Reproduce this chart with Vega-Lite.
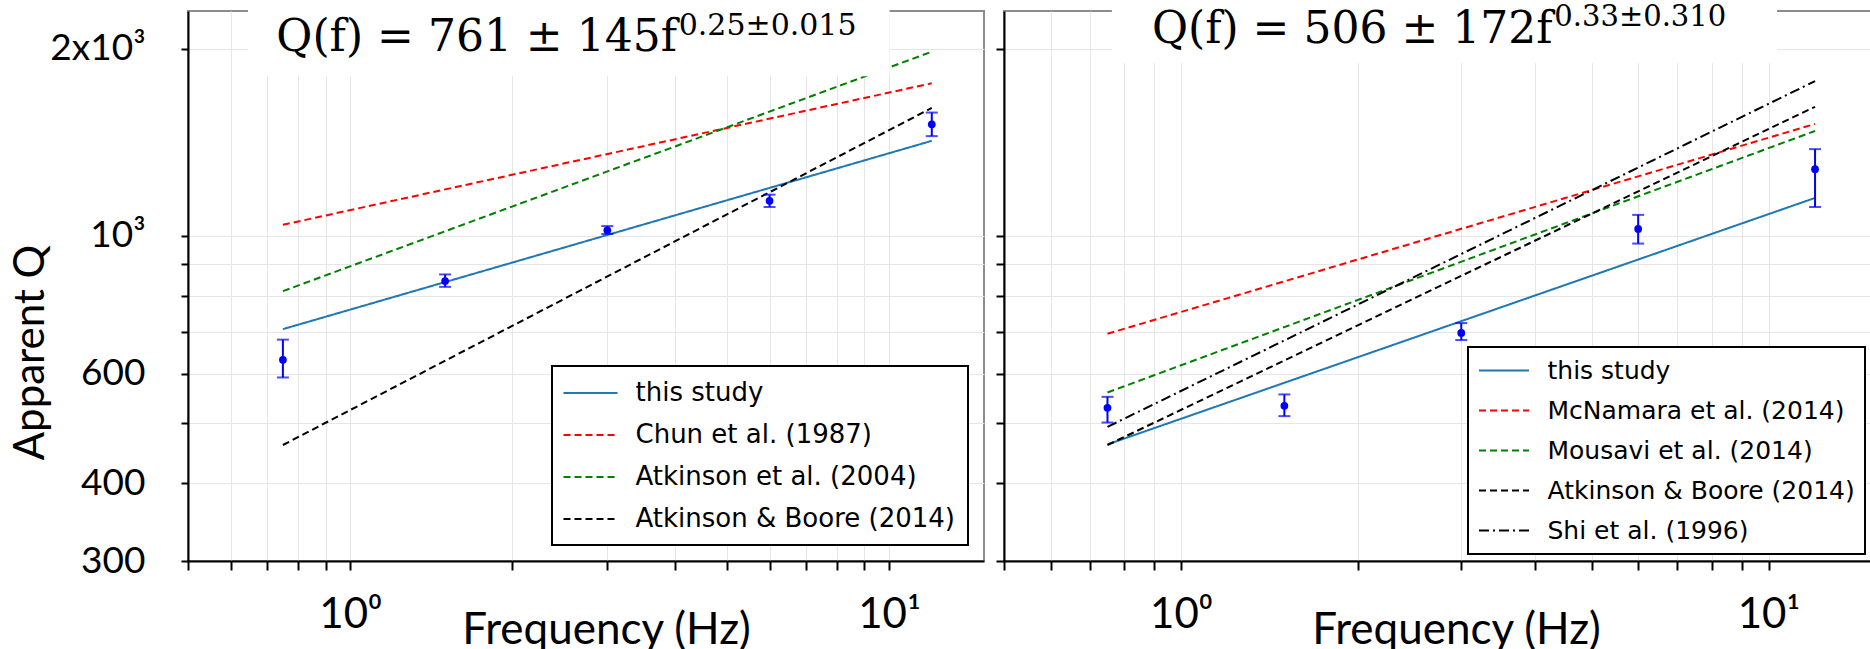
{
  "$schema": "https://vega.github.io/schema/vega-lite/v6.json",
  "background": "white",
  "padding": {"left": 8, "top": 1, "right": 0, "bottom": 0},
  "bounds": "flush",
  "spacing": 20,
  "config": {
    "font": "Lato",
    "view": {"stroke": "#8c8c8c", "strokeWidth": 2},
    "axis": {
      "grid": true, "gridColor": "#e6e6e6", "gridWidth": 1,
      "domainColor": "#000", "domainWidth": 2,
      "tickColor": "#000", "tickWidth": 2,
      "labelFont": "Lato", "titleFont": "Lato",
      "labelColor": "#000", "titleColor": "#000",
      "labelFontWeight": "normal", "titleFontWeight": "normal",
      "labelOverlap": false, "labelBound": false, "labelFlush": false
    },
    "legend": {
      "labelFont": "DejaVu Sans", "labelFontSize": 26, "labelColor": "#000",
      "labelLimit": 600, "fillColor": "white", "strokeColor": "#000",
      "strokeWidth": 2, "padding": 10, "rowPadding": 13,
      "symbolStrokeWidth": 2, "cornerRadius": 0
    }
  },
  "datasets": {
    "lines": [
      {"panel": "L", "model": "this study", "f": 0.75, "Q": 708},
      {"panel": "L", "model": "this study", "f": 12, "Q": 1422},
      {"panel": "L", "model": "Chun et al. (1987)", "f": 0.75, "Q": 1042},
      {"panel": "L", "model": "Chun et al. (1987)", "f": 12, "Q": 1760},
      {"panel": "L", "model": "Atkinson et al. (2004)", "f": 0.75, "Q": 815},
      {"panel": "L", "model": "Atkinson et al. (2004)", "f": 12, "Q": 1978},
      {"panel": "L", "model": "Atkinson & Boore (2014)", "f": 0.75, "Q": 461},
      {"panel": "L", "model": "Atkinson & Boore (2014)", "f": 12, "Q": 1606},
      {"panel": "R", "model": "this study", "f": 0.75, "Q": 462},
      {"panel": "R", "model": "this study", "f": 12, "Q": 1151},
      {"panel": "R", "model": "McNamara et al. (2014)", "f": 0.75, "Q": 696},
      {"panel": "R", "model": "McNamara et al. (2014)", "f": 12, "Q": 1514},
      {"panel": "R", "model": "Mousavi et al. (2014)", "f": 0.75, "Q": 560},
      {"panel": "R", "model": "Mousavi et al. (2014)", "f": 12, "Q": 1475},
      {"panel": "R", "model": "Atkinson & Boore (2014)", "f": 0.75, "Q": 461},
      {"panel": "R", "model": "Atkinson & Boore (2014)", "f": 12, "Q": 1613},
      {"panel": "R", "model": "Shi et al. (1996)", "f": 0.75, "Q": 493},
      {"panel": "R", "model": "Shi et al. (1996)", "f": 12, "Q": 1774}
    ],
    "obs": [
      {"panel": "L", "f": 0.75, "Q": 632, "lo": 592, "hi": 681},
      {"panel": "L", "f": 1.5, "Q": 846, "lo": 828, "hi": 867},
      {"panel": "L", "f": 3, "Q": 1021, "lo": 1007, "hi": 1037},
      {"panel": "L", "f": 6, "Q": 1139, "lo": 1113, "hi": 1165},
      {"panel": "L", "f": 12, "Q": 1512, "lo": 1447, "hi": 1579},
      {"panel": "R", "f": 0.75, "Q": 529, "lo": 501, "hi": 551},
      {"panel": "R", "f": 1.5, "Q": 533, "lo": 513, "hi": 556},
      {"panel": "R", "f": 3, "Q": 698, "lo": 680, "hi": 724},
      {"panel": "R", "f": 6, "Q": 1026, "lo": 972, "hi": 1081},
      {"panel": "R", "f": 12, "Q": 1280, "lo": 1113, "hi": 1379}
    ]
  },
  "hconcat": [
    {
      "width": 796,
      "height": 550,
      "layer": [
        {
          "data": {"name": "lines"},
          "transform": [{"filter": "datum.panel == 'L'"}],
          "mark": {"type": "line", "strokeWidth": 2},
          "encoding": {
            "x": {
              "field": "f", "type": "quantitative", "title": "Frequency (Hz)",
              "scale": {"type": "log", "domain": [0.5, 15], "nice": false},
              "axis": {
                "values": [0.5, 0.6, 0.7, 0.8, 0.9, 1, 2, 3, 4, 5, 6, 7, 8, 9, 10],
                "labelExpr": "datum.value == 1 ? '10⁰' : datum.value == 10 ? '10¹' : ''",
                "labelFontSize": 42, "labelPadding": 24, "tickSize": 9,
                "titleFontSize": 44, "titlePadding": -27, "titleX": 418
              }
            },
            "y": {
              "field": "Q", "type": "quantitative", "title": "Apparent Q",
              "scale": {"type": "log", "domain": [300, 2300], "nice": false},
              "axis": {
                "values": [300, 400, 500, 600, 700, 800, 900, 1000, 2000],
                "labelExpr": "datum.value == 2000 ? '2x10³' : datum.value == 1000 ? '10³' : (datum.value == 600 || datum.value == 400 || datum.value == 300) ? format(datum.value, 'd') : ''",
                "labelFontSize": 37, "labelPadding": 36, "tickSize": 7,
                "titleFontSize": 42, "titlePadding": -3, "titleY": 341
              }
            },
            "color": {
              "field": "model", "type": "nominal",
              "scale": {
                "domain": ["this study", "Chun et al. (1987)", "Atkinson et al. (2004)", "Atkinson & Boore (2014)"],
                "range": ["#1f77b4", "#ff0000", "#008000", "#000000"]
              },
              "legend": {"title": null, "orient": "bottom-right", "offset": 16, "padding": 12.5, "rowPadding": 14, "symbolType": "M-2,0H2", "symbolSize": 729, "symbolOffset": 11.5, "labelOffset": 30.5}
            },
            "strokeDash": {
              "field": "model", "type": "nominal",
              "scale": {
                "domain": ["this study", "Chun et al. (1987)", "Atkinson et al. (2004)", "Atkinson & Boore (2014)"],
                "range": [[1, 0], [7, 4], [7, 4], [7, 4]]
              },
              "legend": {"title": null, "orient": "bottom-right", "offset": 16, "padding": 12.5, "rowPadding": 14, "symbolType": "M-2,0H2", "symbolSize": 729, "symbolOffset": 11.5, "labelOffset": 30.5}
            }
          }
        },
        {
          "data": {"name": "obs"},
          "transform": [{"filter": "datum.panel == 'L'"}],
          "mark": {"type": "errorbar", "ticks": {"size": 12, "thickness": 2, "color": "#0000ff"}, "rule": {"color": "#0000ff", "strokeWidth": 2}},
          "encoding": {
            "x": {"field": "f", "type": "quantitative", "title": "Frequency (Hz)"},
            "y": {"field": "lo", "type": "quantitative", "title": "Apparent Q"},
            "y2": {"field": "hi"}
          }
        },
        {
          "data": {"name": "obs"},
          "transform": [{"filter": "datum.panel == 'L'"}],
          "mark": {"type": "point", "filled": true, "shape": "circle", "size": 60, "color": "#0000ff", "opacity": 1},
          "encoding": {
            "x": {"field": "f", "type": "quantitative", "title": "Frequency (Hz)"},
            "y": {"field": "Q", "type": "quantitative", "title": "Apparent Q"}
          }
        },
        {
          "data": {"values": [{}]},
          "mark": {"type": "rect", "color": "white", "opacity": 1},
          "encoding": {"x": {"datum": 0.646}, "x2": {"datum": 10.02}, "y": {"datum": 1806}, "y2": {"datum": 2370}}
        },
        {
          "data": {"values": [{}]},
          "mark": {"type": "text", "text": "Q(f) = 761 ± 145f", "align": "right", "baseline": "alphabetic", "font": "DejaVu Serif", "fontSize": 44, "color": "#000"},
          "encoding": {"x": {"datum": 4.04}, "y": {"datum": 1982}}
        },
        {
          "data": {"values": [{}]},
          "mark": {"type": "text", "text": "0.25±0.015", "align": "left", "baseline": "alphabetic", "font": "DejaVu Serif", "fontSize": 30, "color": "#000"},
          "encoding": {"x": {"datum": 4.07}, "y": {"datum": 2108}}
        }
      ]
    },
    {
      "width": 868,
      "height": 550,
      "layer": [
        {
          "data": {"name": "lines"},
          "transform": [{"filter": "datum.panel == 'R'"}],
          "mark": {"type": "line", "strokeWidth": 2},
          "encoding": {
            "x": {
              "field": "f", "type": "quantitative", "title": "Frequency (Hz)",
              "scale": {"type": "log", "domain": [0.5, 15], "nice": false},
              "axis": {
                "values": [0.5, 0.6, 0.7, 0.8, 0.9, 1, 2, 3, 4, 5, 6, 7, 8, 9, 10],
                "labelExpr": "datum.value == 1 ? '10⁰' : datum.value == 10 ? '10¹' : ''",
                "labelFontSize": 42, "labelPadding": 24, "tickSize": 9,
                "titleFontSize": 44, "titlePadding": -27, "titleX": 452
              }
            },
            "y": {
              "field": "Q", "type": "quantitative", "title": null,
              "scale": {"type": "log", "domain": [300, 2300], "nice": false},
              "axis": {
                "values": [300, 400, 500, 600, 700, 800, 900, 1000, 2000],
                "labels": false, "tickSize": 8
              }
            },
            "color": {
              "field": "model", "type": "nominal",
              "scale": {
                "domain": ["this study", "McNamara et al. (2014)", "Mousavi et al. (2014)", "Atkinson & Boore (2014)", "Shi et al. (1996)"],
                "range": ["#1f77b4", "#ff0000", "#008000", "#000000", "#000000"]
              },
              "legend": {"title": null, "orient": "bottom-right", "offset": 7, "labelFontSize": 25, "rowPadding": 13, "symbolType": "M-2,0H2", "symbolSize": 625, "symbolOffset": 12.5, "labelOffset": 30}
            },
            "strokeDash": {
              "field": "model", "type": "nominal",
              "scale": {
                "domain": ["this study", "McNamara et al. (2014)", "Mousavi et al. (2014)", "Atkinson & Boore (2014)", "Shi et al. (1996)"],
                "range": [[1, 0], [7, 4], [7, 4], [7, 4], [10, 4, 2, 4]]
              },
              "legend": {"title": null, "orient": "bottom-right", "offset": 7, "labelFontSize": 25, "rowPadding": 13, "symbolType": "M-2,0H2", "symbolSize": 625, "symbolOffset": 12.5, "labelOffset": 30}
            }
          }
        },
        {
          "data": {"name": "obs"},
          "transform": [{"filter": "datum.panel == 'R'"}],
          "mark": {"type": "errorbar", "ticks": {"size": 12, "thickness": 2, "color": "#0000ff"}, "rule": {"color": "#0000ff", "strokeWidth": 2}},
          "encoding": {
            "x": {"field": "f", "type": "quantitative", "title": "Frequency (Hz)"},
            "y": {"field": "lo", "type": "quantitative", "title": null},
            "y2": {"field": "hi"}
          }
        },
        {
          "data": {"name": "obs"},
          "transform": [{"filter": "datum.panel == 'R'"}],
          "mark": {"type": "point", "filled": true, "shape": "circle", "size": 60, "color": "#0000ff", "opacity": 1},
          "encoding": {
            "x": {"field": "f", "type": "quantitative", "title": "Frequency (Hz)"},
            "y": {"field": "Q", "type": "quantitative", "title": null}
          }
        },
        {
          "data": {"values": [{}]},
          "mark": {"type": "rect", "color": "white", "opacity": 1},
          "encoding": {"x": {"datum": 0.763}, "x2": {"datum": 10.34}, "y": {"datum": 1895}, "y2": {"datum": 2370}}
        },
        {
          "data": {"values": [{}]},
          "mark": {"type": "text", "text": "Q(f) = 506 ± 172f", "align": "right", "baseline": "alphabetic", "font": "DejaVu Serif", "fontSize": 44, "color": "#000"},
          "encoding": {"x": {"datum": 4.29}, "y": {"datum": 2046}}
        },
        {
          "data": {"values": [{}]},
          "mark": {"type": "text", "text": "0.33±0.310", "align": "left", "baseline": "alphabetic", "font": "DejaVu Serif", "fontSize": 29, "color": "#000"},
          "encoding": {"x": {"datum": 4.32}, "y": {"datum": 2173}}
        }
      ]
    }
  ],
  "resolve": {
    "scale": {"x": "independent", "y": "independent", "color": "independent", "strokeDash": "independent"},
    "legend": {"color": "independent", "strokeDash": "independent"}
  }
}
